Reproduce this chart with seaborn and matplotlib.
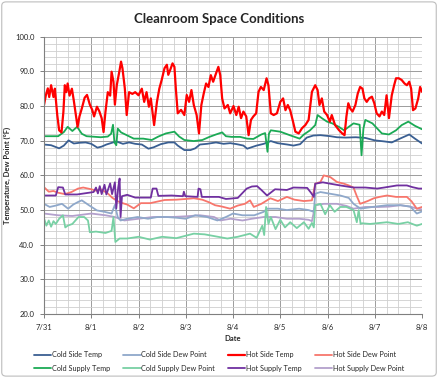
import matplotlib
matplotlib.use("Agg")
import matplotlib.pyplot as plt
from matplotlib.patches import FancyBboxPatch
from matplotlib.ticker import MultipleLocator
import seaborn as sns
import pandas as pd

# ---- data (days since 7/31, deg F) ----
day_labels = ['7/31', '8/1', '8/2', '8/3', '8/4', '8/5', '8/6', '8/7', '8/8']

# Hot Side Temp
hst_t = [0.0, 0.04, 0.08, 0.11, 0.15, 0.2, 0.23, 0.28, 0.32, 0.37, 0.41, 0.44, 0.47, 0.5, 0.54, 0.59,
         0.63, 0.67, 0.71, 0.75, 0.8, 0.86, 0.91, 0.97, 1.02, 1.06, 1.12, 1.17, 1.22, 1.26, 1.3, 1.35,
         1.4, 1.43, 1.47, 1.5, 1.54, 1.6, 1.63, 1.66, 1.71, 1.75, 1.8, 1.87, 1.93, 2.0, 2.07, 2.12,
         2.17, 2.22, 2.26, 2.33, 2.39, 2.44, 2.49, 2.55, 2.6, 2.63, 2.67, 2.72, 2.76, 2.79, 2.83, 2.9,
         2.97, 3.02, 3.07, 3.12, 3.17, 3.23, 3.28, 3.33, 3.38, 3.43, 3.48, 3.53, 3.58, 3.64, 3.69, 3.73,
         3.77, 3.82, 3.89, 3.94, 4.01, 4.07, 4.12, 4.17, 4.22, 4.28, 4.33, 4.38, 4.43, 4.49, 4.54, 4.59,
         4.65, 4.71, 4.75, 4.8, 4.86, 4.93, 5.0, 5.06, 5.11, 5.16, 5.21, 5.27, 5.32, 5.39, 5.46, 5.53,
         5.6, 5.67, 5.74, 5.79, 5.83, 5.88, 5.93, 5.99, 6.05, 6.09, 6.16, 6.24, 6.31, 6.36, 6.4, 6.44,
         6.48, 6.53, 6.59, 6.64, 6.69, 6.74, 6.78, 6.83, 6.88, 6.94, 6.99, 7.04, 7.1, 7.15, 7.2, 7.25,
         7.3, 7.36, 7.41, 7.45, 7.51, 7.57, 7.63, 7.68, 7.73, 7.77, 7.81, 7.86, 7.92, 7.96, 8.0]
hst_v = [80.3, 83.2, 85.1, 82.6, 86.0, 82.6, 85.0, 77.4, 73.0, 72.4, 78.3, 86.0, 84.0, 86.5, 83.0, 85.0,
         81.6, 77.9, 74.0, 77.0, 79.3, 82.4, 83.2, 80.4, 78.9, 77.0, 79.8, 78.5, 76.5, 72.5, 78.3, 84.0,
         83.0, 89.9, 87.0, 80.4, 86.0, 90.4, 92.8, 90.9, 85.1, 77.4, 84.0, 83.5, 84.0, 83.1, 85.0, 81.2,
         84.0, 79.8, 82.2, 74.5, 81.2, 85.0, 87.5, 90.9, 91.9, 89.0, 90.4, 92.3, 91.3, 85.0, 77.9, 78.9,
         77.4, 83.2, 81.2, 84.6, 80.3, 77.4, 72.1, 80.3, 83.6, 86.5, 85.5, 88.9, 87.0, 89.4, 91.3, 88.9,
         82.2, 79.3, 80.3, 77.9, 80.0, 77.4, 79.8, 76.5, 78.4, 77.0, 71.6, 76.0, 77.0, 77.9, 84.1, 85.5,
         84.6, 88.0, 86.0, 77.9, 77.4, 77.9, 81.2, 82.2, 78.8, 80.3, 78.8, 75.5, 72.6, 72.1, 73.6, 74.5,
         76.0, 84.1, 86.0, 84.6, 80.3, 82.2, 78.4, 77.4, 75.5, 77.4, 74.5, 73.1, 72.1, 71.6, 77.0, 80.8,
         79.3, 78.4, 80.3, 83.6, 85.5, 85.0, 82.2, 81.2, 82.2, 82.7, 80.8, 77.9, 77.0, 78.4, 77.4, 83.1,
         76.5, 83.1, 86.0, 88.0, 88.0, 87.5, 86.5, 86.0, 87.0, 85.0, 78.8, 79.3, 82.2, 85.5, 84.1]

# Cold Side Temp
cst_t = [0, 0.15, 0.32, 0.42, 0.52, 0.63, 0.75, 0.88, 1.0, 1.13, 1.22, 1.32, 1.53, 1.67, 1.8, 1.93,
         2.07, 2.21, 2.32, 2.47, 2.63, 2.76, 2.83, 2.97, 3.1, 3.2, 3.3, 3.45, 3.64, 3.8, 3.94, 4.08,
         4.22, 4.3, 4.5, 4.65, 4.8, 4.94, 5.15, 5.28, 5.42, 5.56, 5.7, 5.85, 6.06, 6.2, 6.38, 6.6,
         6.8, 7.0, 7.2, 7.36, 7.5, 7.73, 7.85, 8.0]
cst_v = [68.9, 68.7, 67.8, 68.6, 70.1, 69.2, 69.4, 69.5, 69.1, 68.0, 68.3, 68.9, 69.8, 69.1, 69.5, 69.1,
         68.9, 67.7, 68.1, 69.0, 69.5, 69.5, 68.6, 67.3, 67.3, 67.8, 68.9, 69.1, 69.5, 69.1, 69.3, 69.0,
         68.6, 67.7, 68.6, 69.1, 69.9, 69.3, 68.9, 68.6, 69.0, 70.9, 71.5, 71.6, 71.3, 71.0, 70.9, 71.0,
         70.8, 70.1, 69.8, 69.5, 70.4, 71.8, 70.6, 69.2]

# Cold Supply Temp
cupt_t = [0, 0.3, 0.42, 0.5, 0.6, 0.7, 0.8, 0.9, 1.0, 1.2, 1.35, 1.42, 1.46, 1.49, 1.53, 1.56, 1.63,
          1.75, 1.9, 2.1, 2.28, 2.42, 2.58, 2.76, 2.86, 2.97, 3.17, 3.35, 3.5, 3.64, 3.77, 3.85, 3.97,
          4.15, 4.3, 4.43, 4.6, 4.68, 4.73, 4.76, 4.8, 5.0, 5.2, 5.41, 5.5, 5.63, 5.74, 5.79, 5.88,
          5.99, 6.1, 6.24, 6.35, 6.45, 6.55, 6.68, 6.72, 6.76, 6.8, 6.95, 7.15, 7.3, 7.45, 7.57, 7.71,
          7.85, 8.0]
cupt_v = [71.3, 71.3, 72.5, 74.0, 72.8, 74.0, 72.0, 71.3, 71.2, 71.0, 71.2, 72.0, 74.6, 69.5, 68.7, 73.5,
          72.4, 71.6, 70.6, 70.6, 70.2, 71.2, 72.1, 72.6, 71.2, 70.2, 69.9, 70.2, 71.1, 71.8, 72.4, 71.3,
          71.1, 71.1, 70.6, 70.5, 71.8, 72.2, 66.8, 72.0, 73.0, 72.6, 71.6, 70.6, 71.8, 73.0, 74.5, 77.4,
          76.5, 75.5, 75.0, 74.0, 73.0, 74.0, 75.0, 74.6, 65.8, 73.5, 76.0, 75.0, 72.1, 71.8, 73.0, 74.5,
          75.5, 74.3, 73.3]

# Cold Side Dew Point
csdp_t = [0, 0.12, 0.25, 0.38, 0.51, 0.62, 0.73, 0.8, 0.95, 1.12, 1.28, 1.43, 1.5, 1.56, 1.62, 1.76,
          1.98, 2.2, 2.4, 2.6, 2.8, 3.0, 3.2, 3.45, 3.67, 3.85, 4.0, 4.2, 4.45, 4.65, 4.72, 4.95, 5.14,
          5.4, 5.6, 5.71, 5.74, 5.85, 6.06, 6.27, 6.45, 6.55, 6.7, 6.95, 7.26, 7.55, 7.75, 7.89, 8.0]
csdp_v = [51.8, 50.9, 51.3, 51.8, 50.4, 51.6, 52.4, 52.8, 51.4, 49.9, 49.5, 49.0, 51.5, 48.0, 47.0, 47.5,
          48.0, 47.5, 48.0, 48.0, 47.8, 47.5, 48.5, 48.0, 47.0, 48.0, 49.0, 48.5, 48.5, 49.5, 50.4, 50.4,
          50.0, 50.4, 50.0, 49.5, 54.7, 55.2, 54.7, 54.2, 53.5, 51.8, 50.4, 50.9, 51.4, 51.4, 51.0, 49.0,
          49.6]

# Hot Side Dew Point
hsdp_t = [0, 0.1, 0.2, 0.3, 0.44, 0.58, 0.72, 0.83, 1.0, 1.1, 1.2, 1.35, 1.44, 1.55, 1.66, 1.76, 1.9,
          2.05, 2.25, 2.55, 2.8, 3.0, 3.17, 3.35, 3.5, 3.62, 3.77, 3.94, 4.1, 4.25, 4.36, 4.44, 4.6,
          4.79, 4.95, 5.14, 5.3, 5.5, 5.67, 5.74, 5.85, 5.92, 6.06, 6.2, 6.35, 6.45, 6.55, 6.62, 6.69,
          6.85, 6.98, 7.1, 7.26, 7.45, 7.68, 7.78, 7.89, 8.0]
hsdp_v = [56.6, 55.3, 55.5, 55.0, 54.6, 55.2, 56.2, 56.5, 56.0, 55.6, 56.0, 54.8, 53.6, 52.6, 52.0, 51.6,
          50.5, 52.0, 52.0, 52.9, 53.0, 53.2, 53.4, 53.0, 52.2, 51.4, 51.0, 50.4, 51.3, 51.8, 52.8, 50.9,
          51.8, 53.4, 52.6, 53.8, 53.0, 52.6, 52.8, 57.6, 58.1, 60.0, 59.5, 58.1, 57.6, 57.1, 56.5, 54.0,
          51.8, 52.6, 53.4, 53.8, 54.2, 53.8, 53.8, 52.5, 50.4, 50.9]

# Hot Supply Temp
hupt_t = [0, 0.25, 0.3, 0.4, 0.45, 0.7, 1.05, 1.1, 1.14, 1.18, 1.22, 1.28, 1.32, 1.4, 1.44, 1.5, 1.53,
          1.57, 1.6, 1.62, 1.65, 1.76, 1.93, 2.26, 2.3, 2.38, 2.42, 2.7, 2.94, 2.96, 2.99, 3.25, 3.27,
          3.31, 3.34, 3.7, 3.85, 3.94, 4.1, 4.29, 4.4, 4.51, 4.6, 4.72, 4.89, 5.14, 5.28, 5.57, 5.65,
          5.71, 5.74, 5.9, 6.06, 6.27, 6.55, 6.8, 7.05, 7.2, 7.47, 7.68, 7.8, 7.93, 8.0]
hupt_v = [54.2, 54.2, 56.6, 56.5, 54.5, 54.5, 55.2, 56.5, 54.8, 56.9, 54.6, 57.3, 54.5, 57.7, 54.6, 58.0,
          50.5, 56.5, 59.1, 48.0, 54.0, 54.4, 53.6, 53.6, 56.2, 56.2, 54.1, 54.2, 54.0, 55.3, 54.0, 53.8,
          56.2, 56.0, 53.8, 53.8, 53.2, 53.3, 53.5, 56.2, 56.8, 56.9, 55.8, 54.2, 56.0, 55.8, 56.5, 56.4,
          55.0, 53.8, 57.6, 58.0, 57.6, 57.1, 56.5, 56.5, 56.2, 56.5, 57.1, 57.1, 56.6, 56.2, 56.2]

# Hot Supply Dew Point
hupdp_t = [0, 0.3, 0.6, 1.0, 1.3, 1.5, 1.7, 2.0, 2.3, 2.7, 3.0, 3.3, 3.6, 3.73, 3.95, 4.2, 4.4, 4.65,
           4.9, 5.14, 5.4, 5.6, 5.67, 5.74, 5.92, 6.2, 6.4, 6.55, 6.8, 7.1, 7.3, 7.54, 7.75, 7.9, 8.0]
hupdp_v = [49.0, 48.5, 48.3, 49.0, 48.5, 48.0, 47.0, 47.5, 48.0, 48.0, 48.2, 48.5, 48.0, 47.0, 47.5, 47.0,
           47.5, 48.0, 48.0, 47.5, 47.5, 47.2, 46.8, 51.4, 51.8, 51.8, 51.2, 50.4, 50.9, 50.9, 51.0, 51.4,
           51.0, 50.4, 50.2]

# Cold Supply Dew Point
cupdp_t = [0, 0.05, 0.1, 0.15, 0.2, 0.25, 0.32, 0.4, 0.45, 0.5, 0.6, 0.73, 0.85, 0.93, 0.97, 1.1, 1.3,
           1.43, 1.47, 1.51, 1.6, 1.76, 2.0, 2.24, 2.5, 2.8, 3.17, 3.4, 3.6, 3.88, 4.1, 4.36, 4.5, 4.62,
           4.66, 4.7, 4.75, 4.8, 4.9, 5.0, 5.1, 5.21, 5.35, 5.5, 5.6, 5.67, 5.71, 5.74, 5.85, 5.95, 6.05,
           6.15, 6.27, 6.4, 6.55, 6.62, 6.66, 6.7, 6.73, 6.9, 7.26, 7.5, 7.7, 7.89, 8.0]
cupdp_v = [47.6, 45.5, 47.0, 45.2, 46.8, 46.0, 47.5, 48.5, 45.0, 45.5, 46.0, 48.0, 48.0, 47.0, 43.6, 43.8,
           43.4, 44.0, 48.0, 40.8, 41.8, 41.8, 42.3, 41.5, 42.3, 41.9, 43.2, 43.0, 42.5, 41.8, 42.3, 43.2,
           42.0, 45.5, 42.8, 50.9, 46.0, 48.0, 44.5, 47.2, 45.0, 46.5, 44.8, 46.5, 44.6, 46.3, 45.0, 51.4,
           51.8, 48.8, 51.4, 49.5, 50.9, 50.9, 50.0, 46.5, 50.0, 46.0, 46.2, 46.0, 46.5, 46.0, 46.5, 45.5,
           46.0]

series = [
    ('Cold Side Temp', cst_t, cst_v, '#3A5F92'),
    ('Cold Side Dew Point', csdp_t, csdp_v, '#8FA8CA'),
    ('Hot Side Temp', hst_t, hst_v, '#FF0000'),
    ('Hot Side Dew Point', hsdp_t, hsdp_v, '#F7766C'),
    ('Cold Supply Temp', cupt_t, cupt_v, '#1BAA55'),
    ('Cold Supply Dew Point', cupdp_t, cupdp_v, '#78D0A4'),
    ('Hot Supply Temp', hupt_t, hupt_v, '#7030A0'),
    ('Hot Supply Dew Point', hupdp_t, hupdp_v, '#B3A0CC'),
]

frames = [pd.DataFrame({'day': t, 'value': v, 'series': name}) for name, t, v, c in series]
df = pd.concat(frames, ignore_index=True)
palette = {name: c for name, t, v, c in series}

sns.set_style('white')
plt.rcParams['font.family'] = ['Lato', 'DejaVu Sans']

fig = plt.figure(figsize=(4.38, 3.78), dpi=100)
ax = fig.add_axes([0.1005, 0.169, 0.863, 0.734])

# draw order: light lines first, the strong ones on top
draw_order = ['Hot Supply Dew Point', 'Cold Side Dew Point', 'Cold Supply Dew Point', 'Hot Side Dew Point',
              'Hot Supply Temp', 'Cold Side Temp', 'Cold Supply Temp', 'Hot Side Temp']
handles = {}
for name in draw_order:
    sub = df[df['series'] == name]
    lw = 1.6 if name == 'Hot Side Temp' else 1.3
    sns.lineplot(data=sub, x='day', y='value', color=palette[name], lw=lw, ax=ax,
                 estimator=None, sort=False, legend=False)
    handles[name] = ax.lines[-1]

ax.set_xlim(0, 8)
ax.set_ylim(20, 100)
ax.xaxis.set_minor_locator(MultipleLocator(0.25))
ax.yaxis.set_minor_locator(MultipleLocator(2))
ax.set_xticks(range(9))
ax.set_xticklabels(day_labels)
ax.set_yticks(range(20, 101, 10))
ax.set_yticklabels(['%.1f' % y for y in range(20, 101, 10)])
ax.grid(which='major', color='#9C9C9C', lw=0.7)
ax.grid(which='minor', color='#CFCFCF', lw=0.6)
ax.set_axisbelow(True)
for s in ['top', 'right']:
    ax.spines[s].set_visible(False)
for s in ['left', 'bottom']:
    ax.spines[s].set_color('#7F7F7F')
    ax.spines[s].set_linewidth(0.8)
ax.tick_params(which='major', direction='out', length=3, width=0.7, color='#7F7F7F',
               labelsize=5.5, pad=4, bottom=True, left=True)
ax.tick_params(which='minor', length=0)
ax.set_xlabel('Date', fontsize=5.5, fontweight='bold', labelpad=3)
ax.set_ylabel('Temperature, Dew Point (\u00b0F)', fontsize=5.5, fontweight='bold', labelpad=3)

fig.suptitle('Cleanroom Space Conditions', fontsize=9.5, fontweight='bold', y=0.965)

leg_order = ['Cold Side Temp', 'Cold Supply Temp', 'Cold Side Dew Point', 'Cold Supply Dew Point',
             'Hot Side Temp', 'Hot Supply Temp', 'Hot Side Dew Point', 'Hot Supply Dew Point']
fig.legend([handles[n] for n in leg_order], leg_order, ncol=4, loc='center', bbox_to_anchor=(0.5, 0.043),
           frameon=False, fontsize=5.2, handlelength=2.4, handletextpad=0.1, columnspacing=1.8,
           labelspacing=0.9)

fig.patches.append(FancyBboxPatch((0.004, 0.005), 0.992, 0.99, boxstyle='round,pad=0,rounding_size=0.01',
                                  transform=fig.transFigure, fill=False, edgecolor='#BDBDBD', lw=0.8))

fig.savefig('out.png', dpi=100)
